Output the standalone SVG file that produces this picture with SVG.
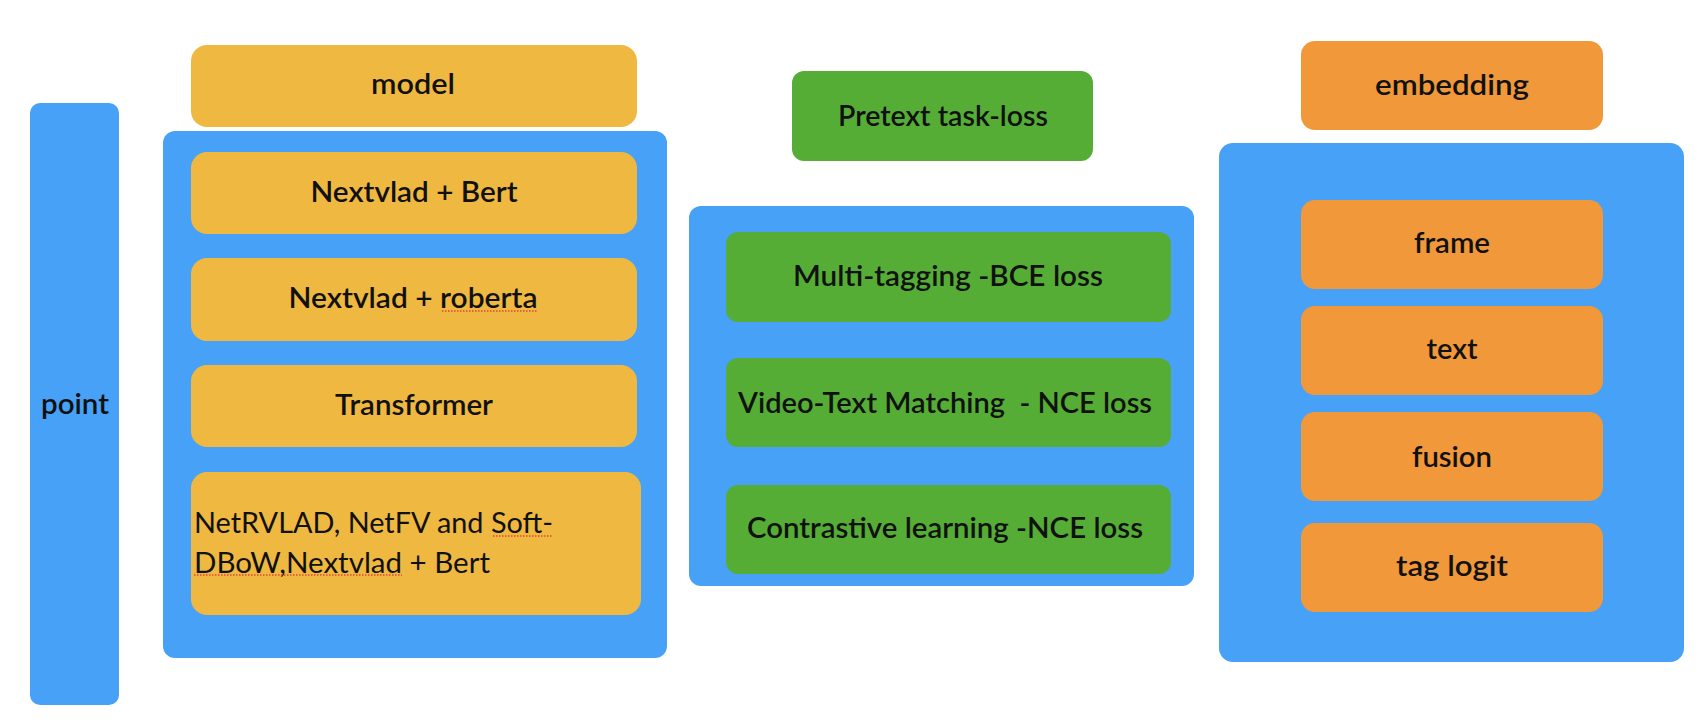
<svg xmlns="http://www.w3.org/2000/svg" width="1698" height="722" viewBox="0 0 1698 722">
<style>
.panel{fill:#47A1F7}
.yel{fill:#EFB941}
.grn{fill:#55AD35}
.org{fill:#F0983A}
text{font-family:Lato,"Open Sans","Liberation Sans",sans-serif;font-size:28px;font-weight:600;fill:#111;text-anchor:middle;white-space:pre}
text.plain{font-weight:400;text-anchor:start}
.spell{stroke:#E0453A;stroke-width:1.3;stroke-dasharray:1.5 1.5;fill:none}
</style>
<rect width="1698" height="722" fill="#ffffff"/>
<g id="point">
<rect class="panel" x="30" y="103" width="89" height="602" rx="10"/>
<text x="75" y="414" textLength="68" lengthAdjust="spacingAndGlyphs">point</text>
</g>
<g id="model">
<rect class="yel" x="191" y="45" width="446" height="82" rx="16"/>
<text x="413" y="94" textLength="84" lengthAdjust="spacingAndGlyphs">model</text>
</g>
<g id="model-panel">
<rect class="panel" x="163" y="131" width="504" height="527" rx="12"/>
</g>
<g id="nextvlad-bert">
<rect class="yel" x="191" y="152" width="446" height="82" rx="16"/>
<text x="414" y="202" textLength="207" lengthAdjust="spacingAndGlyphs">Nextvlad + Bert</text>
</g>
<g id="nextvlad-roberta">
<rect class="yel" x="191" y="258" width="446" height="83" rx="16"/>
<text x="413" y="308" textLength="249" lengthAdjust="spacingAndGlyphs">Nextvlad + roberta</text>
<line class="spell" x1="442" y1="311" x2="538" y2="311"/>
</g>
<g id="transformer">
<rect class="yel" x="191" y="365" width="446" height="82" rx="16"/>
<text x="414" y="415" textLength="158" lengthAdjust="spacingAndGlyphs">Transformer</text>
</g>
<g id="netrvlad">
<rect class="yel" x="191" y="472" width="450" height="143" rx="16"/>
<text class="plain" x="194" y="533" textLength="359" lengthAdjust="spacingAndGlyphs">NetRVLAD, NetFV and Soft-</text>
<text class="plain" x="194" y="573" textLength="296" lengthAdjust="spacingAndGlyphs">DBoW,Nextvlad + Bert</text>
<line class="spell" x1="493" y1="536" x2="553" y2="536"/>
<line class="spell" x1="194" y1="575" x2="402" y2="575"/>
</g>
<g id="pretext">
<rect class="grn" x="792" y="71" width="301" height="90" rx="12"/>
<text x="943" y="126" textLength="210" lengthAdjust="spacingAndGlyphs">Pretext task-loss</text>
</g>
<g id="loss-panel">
<rect class="panel" x="689" y="206" width="505" height="380" rx="12"/>
</g>
<g id="multi-tagging">
<rect class="grn" x="726" y="232" width="445" height="90" rx="12"/>
<text x="948" y="286" textLength="310" lengthAdjust="spacingAndGlyphs">Multi-tagging -BCE loss</text>
</g>
<g id="video-text">
<rect class="grn" x="726" y="358" width="445" height="89" rx="12"/>
<text x="945" y="413" textLength="414" lengthAdjust="spacingAndGlyphs" xml:space="preserve">Video-Text Matching  - NCE loss</text>
</g>
<g id="contrastive">
<rect class="grn" x="726" y="485" width="445" height="89" rx="12"/>
<text x="945" y="538" textLength="396" lengthAdjust="spacingAndGlyphs">Contrastive learning -NCE loss</text>
</g>
<g id="embedding">
<rect class="org" x="1301" y="41" width="302" height="89" rx="14"/>
<text x="1452" y="95" textLength="154" lengthAdjust="spacingAndGlyphs">embedding</text>
</g>
<g id="embedding-panel">
<rect class="panel" x="1219" y="143" width="465" height="519" rx="14"/>
</g>
<g id="frame">
<rect class="org" x="1301" y="200" width="302" height="89" rx="14"/>
<text x="1452" y="253" textLength="76" lengthAdjust="spacingAndGlyphs">frame</text>
</g>
<g id="text">
<rect class="org" x="1301" y="306" width="302" height="89" rx="14"/>
<text x="1452" y="359" textLength="51" lengthAdjust="spacingAndGlyphs">text</text>
</g>
<g id="fusion">
<rect class="org" x="1301" y="412" width="302" height="89" rx="14"/>
<text x="1452" y="467" textLength="80" lengthAdjust="spacingAndGlyphs">fusion</text>
</g>
<g id="tag-logit">
<rect class="org" x="1301" y="523" width="302" height="89" rx="14"/>
<text x="1452" y="576" textLength="112" lengthAdjust="spacingAndGlyphs">tag logit</text>
</g>
<g id="connectors"></g>
</svg>
